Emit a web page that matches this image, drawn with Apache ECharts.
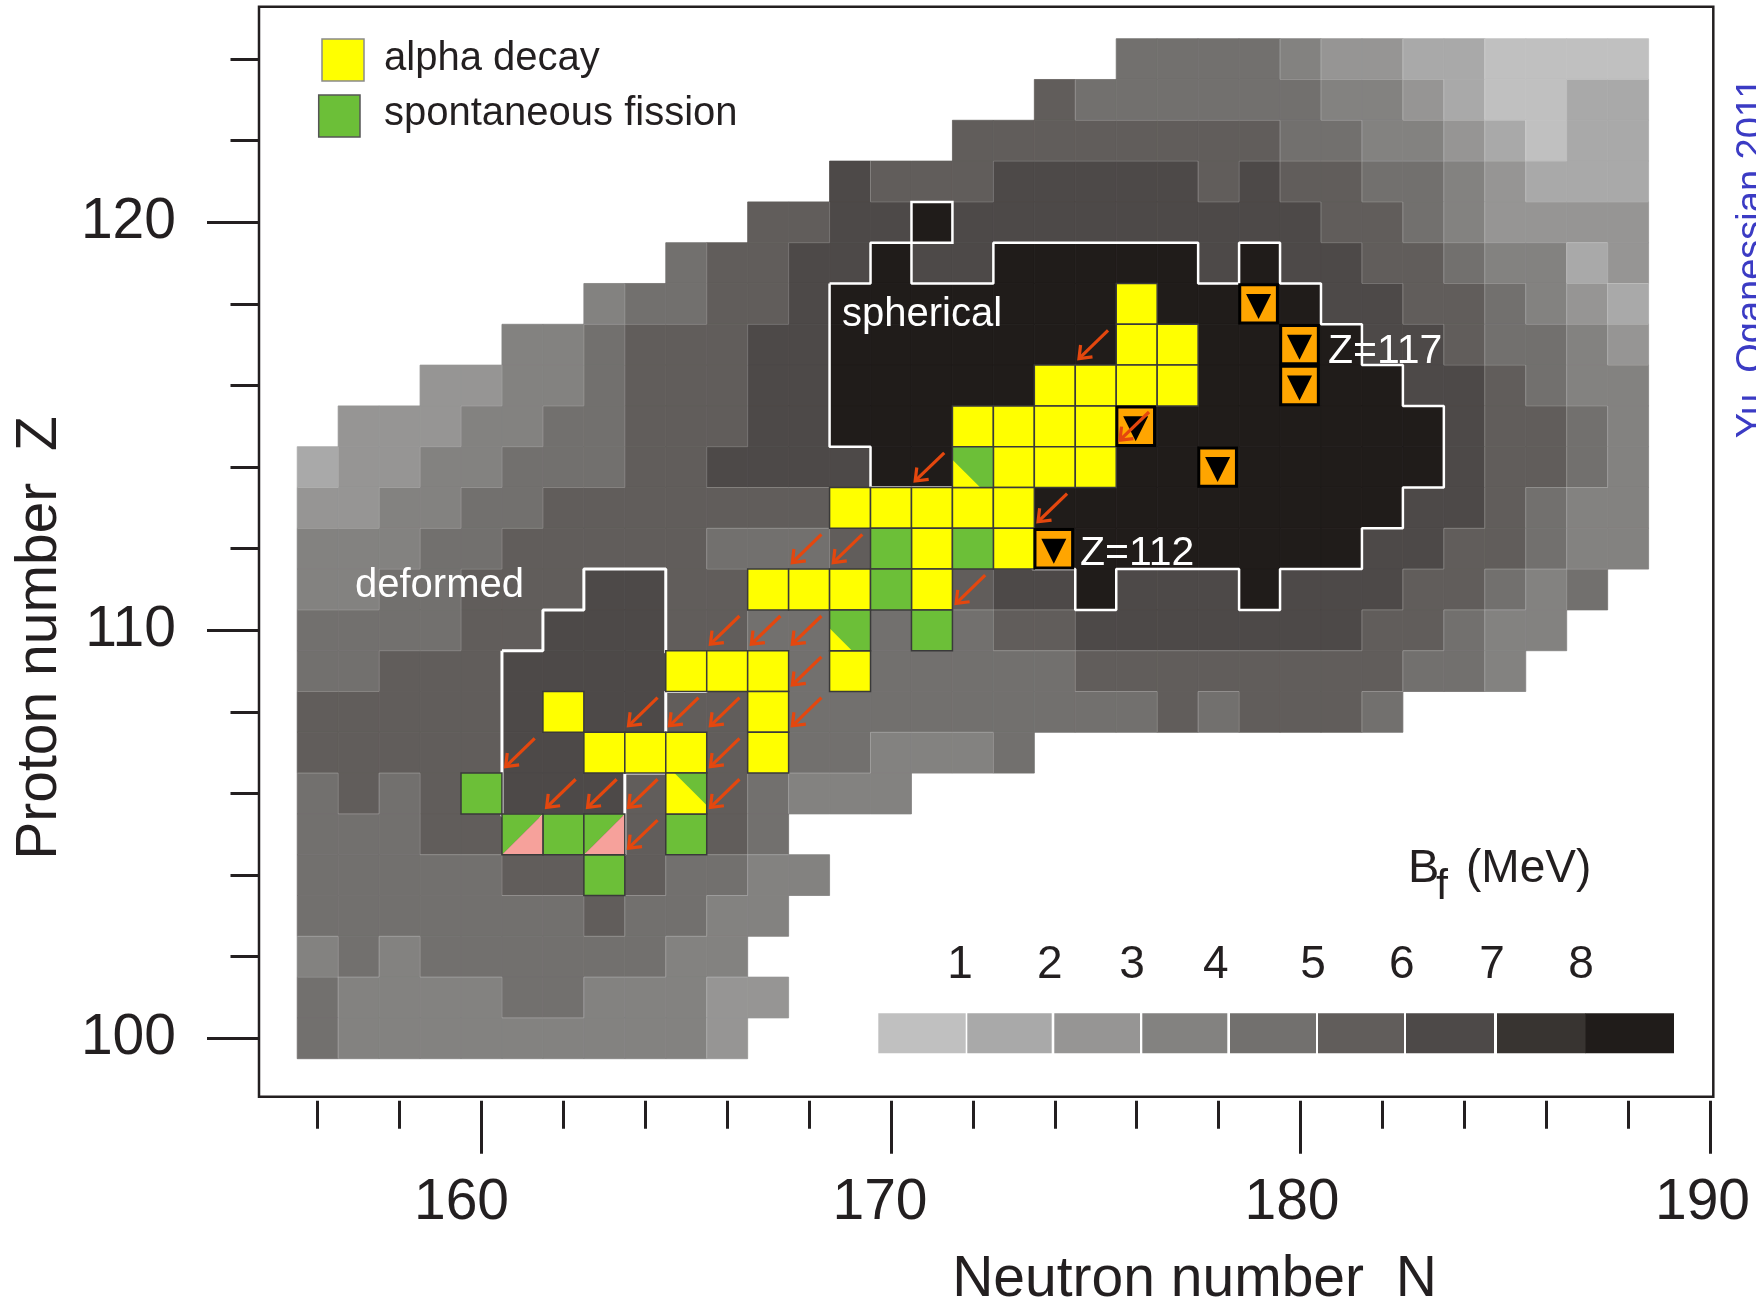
<!DOCTYPE html>
<html lang="en">
<head>
<meta charset="utf-8">
<title>Fission barriers of superheavy nuclei</title>
<script src="https://cdn.jsdelivr.net/npm/echarts@6.0.0/dist/echarts.min.js"></script>
<style>
  html, body { margin: 0; padding: 0; background: #ffffff; }
  #chart { width: 1756px; height: 1308px; }
</style>
</head>
<body>
<div id="chart"></div>
<script>
// ---------------------------------------------------------------------------
// Fission barrier B_f, binned per MeV: 0 = below 1, 1 = 1-2, ... , 8 = above 8.
// One row per proton number Z; each row covers consecutive neutron numbers
// starting at rowFirstN (spaces only group runs of equal bins).
const rowZ = [124, 123, 122, 121, 120, 119, 118, 117, 116, 115, 114, 113, 112,
              111, 110, 109, 108, 107, 106, 105, 104, 103, 102, 101, 100];
const rowFirstN = [176, 174, 172, 169, 167, 165, 163, 161, 159, 157, 156, 156, 156,
                   156, 156, 156, 156, 156, 156, 156, 156, 156, 156, 156, 156];
const rowBins = [
  '4444 3 22 11 0000',
  '5 444444 33 2 1 00 11',
  '55555555 44 33 2 1 0 11',
  '6 555 66666 5 6 55 44 3 2 111',
  '55 66 8 666666666 55 4 3 2222',
  '4 55 66 8 66 88888 6 8 66 55 4 33 1 2',
  '3 44 55 6 888888888888 66 55 4 3 2 1',
  '33 4 555 66 8888888888888 66 5 44 3 2',
  '22 33 4 555 66 88888888888888 66 5 4 33',
  '222 33 44 555 66 888888888888888 6 55 4 3',
  '1 22 33 444 55 6666 88888888888888 6 55 4 3',
  '22 33 44 5555555 66666 888888888 66 5 4 33',
  '333 44 55555 444 55555 88888888 66 55 4 33',
  '33 44 555 66 55555555 66 8 666 8 666 55 4 3 4',
  '4444 55 666 55 444444 55 6666666 55 4 33',
  '44 555 66666 55 4 4 44444 55555555 44 3',
  '55555 6666 55 4 444444444 5 4 555 4',
  '55555 6666 55 444 333 4',
  '4 5 4 55 666 555 4 333',
  '444 5555 6 555 4',
  '44444 5555 44 33',
  '4444444 5 44 33',
  '3 4 3 444444 33',
  '4 3333 44 333 22',
  '4 333333333 2'
];

// Observed decays, as [N, Z]
const alphaCells = [
  [176, 118], [176, 117], [177, 117], [174, 116], [175, 116], [176, 116], [177, 116],
  [172, 115], [173, 115], [174, 115], [175, 115], [173, 114], [174, 114], [175, 114],
  [169, 113], [170, 113], [171, 113], [172, 113], [173, 113], [171, 112], [173, 112],
  [167, 111], [168, 111], [169, 111], [171, 111], [165, 109], [166, 109], [167, 109],
  [169, 109], [162, 108], [167, 108], [163, 107], [164, 107], [165, 107], [167, 107]
];
const fissionCells = [
  [170, 112], [172, 112], [170, 111], [171, 110], [160, 106], [162, 105], [165, 105], [163, 104]
];
// alpha decay competing with fission: [N, Z, diagonal split offset]
const mixedCells = [[172, 114, -0.32], [169, 110, -0.45], [165, 106, 0.21]];
// fission competing with electron capture
const captureCells = [[161, 105], [163, 105]];
// heaviest new nuclei (marked with a down triangle)
const newNuclei = [[179, 118], [180, 117], [180, 116], [176, 115], [178, 114], [174, 112]];
// alpha-decay arrows, placed in the cell they cross
const arrowCells = [
  [175, 117], [176, 115], [171, 114], [174, 113], [168, 112], [169, 112], [172, 111],
  [166, 110], [167, 110], [168, 110], [168, 109], [164, 108], [165, 108], [166, 108],
  [168, 108], [161, 107], [166, 107], [162, 106], [163, 106], [164, 106], [166, 106],
  [164, 105]
];
// single isolated high-barrier cell
const isolatedCell = [[171, 120]];

// Shell-stabilised regions, traced along cell edges
const sphericalOutline = [
  [168.5, 118.5], [169.5, 118.5], [169.5, 119.5], [170.5, 119.5], [170.5, 118.5],
  [172.5, 118.5], [172.5, 119.5], [177.5, 119.5], [177.5, 118.5], [178.5, 118.5],
  [178.5, 119.5], [179.5, 119.5], [179.5, 118.5], [180.5, 118.5], [180.5, 117.5],
  [181.5, 117.5], [181.5, 116.5], [182.5, 116.5], [182.5, 115.5], [183.5, 115.5],
  [183.5, 113.5], [182.5, 113.5], [182.5, 112.5], [181.5, 112.5], [181.5, 111.5],
  [179.5, 111.5], [179.5, 110.5], [178.5, 110.5], [178.5, 111.5], [175.5, 111.5],
  [175.5, 110.5], [174.5, 110.5], [174.5, 111.5], [173.45, 111.5], [173.45, 113.5],
  [169.5, 113.5], [169.5, 114.5], [168.5, 114.5], [168.5, 118.5]
];
const deformedOutline = [
  [160.5, 109.5], [161.5, 109.5], [161.5, 110.5], [162.5, 110.5], [162.5, 111.5],
  [164.5, 111.5], [164.5, 109.45], [165.5, 109.45], [165.5, 108.5], [164.5, 108.5],
  [164.5, 106.5], [163.5, 106.5], [163.5, 104.5], [162.5, 104.5], [162.5, 105.45],
  [160.5, 105.45], [160.5, 109.5]
];

// Axis ticks and colour-scale labels
const xMinorTicks = [156, 158, 160, 162, 164, 166, 168, 170, 172, 174, 176, 178, 180, 182, 184, 186, 188, 190];
const xMajorTicks = [160, 170, 180, 190];
const yMinorTicks = [100, 102, 104, 106, 108, 110, 112, 114, 116, 118, 120, 122, 124];
const yMajorTicks = [100, 110, 120];
const barrierTicks = [1, 2, 3, 4, 5, 6, 7, 8];

// ---------------------------------------------------------------------------
const barrierPalette = ['#c0c0c0', '#a9a9a9', '#969594', '#838280', '#72706e',
                        '#615d5b', '#4d4948', '#383431', '#201c1a'];
const INK = '#231f20';
const ALPHA = '#ffff00';
const FISSION = '#6cbf38';
const CAPTURE = '#f6a19b';
const NEW = '#ffa500';
const ARROW = '#e4470e';
const EDGE = '#3a3a3a';
const FONT = '"Liberation Sans", Arial, Helvetica, sans-serif';

const cellData = [];
rowZ.forEach(function (z, r) {
  const bins = rowBins[r].replace(/ /g, '');
  for (let i = 0; i < bins.length; i++) cellData.push([rowFirstN[r] + i, z, Number(bins[i])]);
});
const binAt = new Map(cellData.map(function (d) { return [d[0] + ',' + d[1], d[2]]; }));

function cellBox(api, n, z) {
  const a = api.coord([n - 0.5, z + 0.5]);
  const b = api.coord([n + 0.5, z - 0.5]);
  return { x: a[0], y: a[1], width: b[0] - a[0], height: b[1] - a[1] };
}
function markerSeries(data, z, renderItem) {
  return {
    type: 'custom', coordinateSystem: 'cartesian2d', xAxisIndex: 0, yAxisIndex: 0,
    silent: true, z: z, data: data, encode: { x: 0, y: 1 }, renderItem: renderItem
  };
}

const series = [
  // barrier map
  markerSeries(cellData, 1, function (p, api) {
    const b = api.value(2);
    return { type: 'rect', shape: cellBox(api, api.value(0), api.value(1)),
      style: { fill: barrierPalette[b], stroke: barrierPalette[b], lineWidth: 0.8 } };
  }),
  // faint seams between different barrier bins
  markerSeries(cellData, 2, function (p, api) {
    const n = api.value(0), z = api.value(1), b = api.value(2);
    const r = cellBox(api, n, z);
    const x0 = r.x, x1 = r.x + r.width, y0 = r.y, y1 = r.y + r.height;
    const right = binAt.get((n + 1) + ',' + z), up = binAt.get(n + ',' + (z + 1));
    const segs = [];
    if (right !== undefined && right !== b) segs.push([x1, y0, x1, y1]);
    if (up !== undefined && up !== b) segs.push([x0, y0, x1, y0]);
    return { type: 'group', children: segs.map(function (s) {
      return { type: 'line', shape: { x1: s[0], y1: s[1], x2: s[2], y2: s[3] },
        style: { stroke: 'rgba(255,255,255,0.22)', lineWidth: 1 } };
    }) };
  }),
  {
    type: 'line', data: sphericalOutline, xAxisIndex: 0, yAxisIndex: 0, z: 3, silent: true,
    symbol: 'none', lineStyle: { color: '#ffffff', width: 2.5 }
  },
  {
    type: 'line', data: deformedOutline, xAxisIndex: 0, yAxisIndex: 0, z: 3, silent: true,
    symbol: 'none', lineStyle: { color: '#ffffff', width: 3 }
  },
  markerSeries(alphaCells, 4, function (p, api) {
    return { type: 'rect', shape: cellBox(api, api.value(0), api.value(1)),
      style: { fill: ALPHA, stroke: EDGE, lineWidth: 1.5 } };
  }),
  markerSeries(fissionCells, 4, function (p, api) {
    return { type: 'rect', shape: cellBox(api, api.value(0), api.value(1)),
      style: { fill: FISSION, stroke: EDGE, lineWidth: 1.5 } };
  }),
  markerSeries(mixedCells, 4, function (p, api) {
    const r = cellBox(api, api.value(0), api.value(1));
    const t = api.value(2);
    const P = function (u, v) { return [r.x + u * r.width, r.y + v * r.height]; };
    const pts = t < 0 ? [P(0, -t), P(0, 1), P(1 + t, 1)]
                      : [P(0, 0), P(t, 0), P(1, 1 - t), P(1, 1), P(0, 1)];
    return { type: 'group', children: [
      { type: 'rect', shape: r, style: { fill: FISSION } },
      { type: 'polygon', shape: { points: pts }, style: { fill: ALPHA } },
      { type: 'rect', shape: r, style: { fill: null, stroke: EDGE, lineWidth: 1.5 } }
    ] };
  }),
  markerSeries(captureCells, 4, function (p, api) {
    const r = cellBox(api, api.value(0), api.value(1));
    const P = function (u, v) { return [r.x + u * r.width, r.y + v * r.height]; };
    return { type: 'group', children: [
      { type: 'polygon', shape: { points: [P(0, 0), P(1, 0), P(0, 1)] }, style: { fill: FISSION } },
      { type: 'polygon', shape: { points: [P(1, 0), P(1, 1), P(0, 1)] }, style: { fill: CAPTURE } },
      { type: 'rect', shape: r, style: { fill: null, stroke: EDGE, lineWidth: 1.5 } }
    ] };
  }),
  markerSeries(newNuclei, 4, function (p, api) {
    const c = api.coord([api.value(0), api.value(1)]);
    const s = api.size([1, 1]);
    const hw = s[0] * 0.46, hh = s[1] * 0.47;
    return { type: 'group', children: [
      { type: 'rect', shape: { x: c[0] - hw - 1, y: c[1] - hh, width: 2 * hw, height: 2 * hh },
        style: { fill: NEW, stroke: '#000000', lineWidth: 3 } },
      { type: 'polygon', shape: { points: [[c[0] - 13.5, c[1] - 10], [c[0] + 11.5, c[1] - 10], [c[0] - 1, c[1] + 15]] },
        style: { fill: '#000000' } }
    ] };
  }),
  markerSeries(isolatedCell, 5, function (p, api) {
    return { type: 'rect', shape: cellBox(api, api.value(0), api.value(1)),
      style: { fill: null, stroke: '#ffffff', lineWidth: 2.5 } };
  }),
  markerSeries(arrowCells, 6, function (p, api) {
    const c = api.coord([api.value(0), api.value(1)]);
    const s = api.size([1, 1]);
    const tail = [c[0] + 0.3 * s[0], c[1] - 0.35 * s[1]];
    const head = [c[0] - 0.41 * s[0], c[1] + 0.34 * s[1]];
    const leg = 0.33 * s[0];
    return { type: 'group', children: [
      { type: 'line', shape: { x1: tail[0], y1: tail[1], x2: head[0] + 1, y2: head[1] - 1 },
        style: { stroke: ARROW, lineWidth: 3.2 } },
      { type: 'polyline', shape: { points: [[head[0] + 0.12 * leg, head[1] - leg], head, [head[0] + leg, head[1] - 0.12 * leg]] },
        style: { stroke: ARROW, lineWidth: 3.2, fill: null, lineJoin: 'miter' } }
    ] };
  })
];

// ---------------------------------------------------------------------------
function text(str, x, y, size, style, extra) {
  return Object.assign({
    type: 'text', x: x, y: y, z: 50, silent: true,
    style: Object.assign({ text: str, font: size + 'px ' + FONT, fill: INK,
      align: 'left', verticalAlign: 'middle' }, style || {})
  }, extra || {});
}

const colorBarEdges = [[878.3, 965.7], [967.3, 1051.7], [1054.3, 1140], [1142.3, 1227.3],
  [1230, 1316], [1318, 1404], [1406, 1494], [1497, 1586], [1585.5, 1674]];
const colorBarLabelX = [960, 1049.7, 1132, 1215.8, 1313, 1401.7, 1492, 1581];

const graphics = [
  { type: 'rect', z: 50, silent: true, shape: { x: 322, y: 39, width: 42, height: 42 },
    style: { fill: ALPHA, stroke: '#8a8a8a', lineWidth: 1.5 } },
  { type: 'rect', z: 50, silent: true, shape: { x: 318.7, y: 95, width: 41.3, height: 42 },
    style: { fill: FISSION, stroke: '#555555', lineWidth: 1.5 } },
  text('alpha decay', 384, 59, 40),
  text('spontaneous fission', 384, 113.6, 40),
  text('spherical', 842, 314.6, 40, { fill: '#ffffff' }),
  text('deformed', 355, 585.6, 40, { fill: '#ffffff' }),
  text('Z=112', 1080, 554, 41, { fill: '#ffffff' }),
  text('Z=117', 1328, 351.3, 41, { fill: '#ffffff' }),
  text('B', 1408, 869.4, 47),
  text('f', 1436, 886.7, 43),
  text('(MeV)', 1466, 869.7, 46),
  text('Neutron number  N', 1194.5, 1279.8, 57, { align: 'center' }),
  text('Proton number  Z', 40, 638, 57, { align: 'center' }, { rotation: Math.PI / 2 }),
  text('Yu. Oganessian 2011', 1753, 258, 38, { align: 'center', fill: '#3b3bc4' }, { rotation: Math.PI / 2 })
];
colorBarEdges.forEach(function (e, i) {
  graphics.push({ type: 'rect', z: 50, silent: true,
    shape: { x: e[0], y: 1013.3, width: e[1] - e[0], height: 40 },
    style: { fill: barrierPalette[i] } });
});
barrierTicks.forEach(function (v, i) {
  graphics.push(text(String(v), colorBarLabelX[i], 965.2, 46, { align: 'center' }));
});

const X_MIN = 154.567, X_MAX = 190.08, Y_MIN = 98.569, Y_MAX = 125.284;
const tickStyle = { color: INK, width: 3 };
const axisFont = { fontSize: 57, color: INK, fontFamily: FONT };

// horizontal nudge of the neutron-number labels (right padding shifts text left)
const xLabelRich = {
  p160: Object.assign({ padding: [0, 40, 0, 0] }, axisFont),
  p170: Object.assign({ padding: [0, 22, 0, 0] }, axisFont),
  p180: Object.assign({ padding: [0, 17, 0, 0] }, axisFont),
  p190: Object.assign({ padding: [0, 15, 0, 0] }, axisFont)
};

const option = {
  animation: false,
  backgroundColor: '#ffffff',
  grid: { left: 259, right: 42.7, top: 6.7, bottom: 211.3, show: true,
          borderColor: INK, borderWidth: 2.5, backgroundColor: 'transparent' },
  xAxis: [
    { type: 'value', min: X_MIN, max: X_MAX, position: 'bottom', offset: 4,
      axisLine: { show: false }, splitLine: { show: false },
      axisTick: { show: true, length: 28, lineStyle: tickStyle, customValues: xMinorTicks },
      axisLabel: { show: false } },
    { type: 'value', min: X_MIN, max: X_MAX, position: 'bottom', offset: 4,
      axisLine: { show: false }, splitLine: { show: false },
      axisTick: { show: true, length: 53, lineStyle: tickStyle, customValues: xMajorTicks },
      axisLabel: Object.assign({ show: true, customValues: xMajorTicks, margin: 74.5,
        formatter: function (v) { return '{p' + v + '|' + v + '}'; }, rich: xLabelRich }, axisFont) }
  ],
  yAxis: [
    { type: 'value', min: Y_MIN, max: Y_MAX, position: 'left',
      axisLine: { show: false }, splitLine: { show: false },
      axisTick: { show: true, length: 28.5, lineStyle: tickStyle, customValues: yMinorTicks },
      axisLabel: { show: false } },
    { type: 'value', min: Y_MIN, max: Y_MAX, position: 'left',
      axisLine: { show: false }, splitLine: { show: false },
      axisTick: { show: true, length: 52, lineStyle: tickStyle, customValues: yMajorTicks },
      axisLabel: Object.assign({ show: true, customValues: yMajorTicks, margin: 83,
        padding: [5, 0, 0, 0] }, axisFont) }
  ],
  series: series,
  graphic: { elements: graphics }
};

const chart = echarts.init(document.getElementById('chart'), null, { renderer: 'canvas' });
chart.setOption(option);
</script>
</body>
</html>
